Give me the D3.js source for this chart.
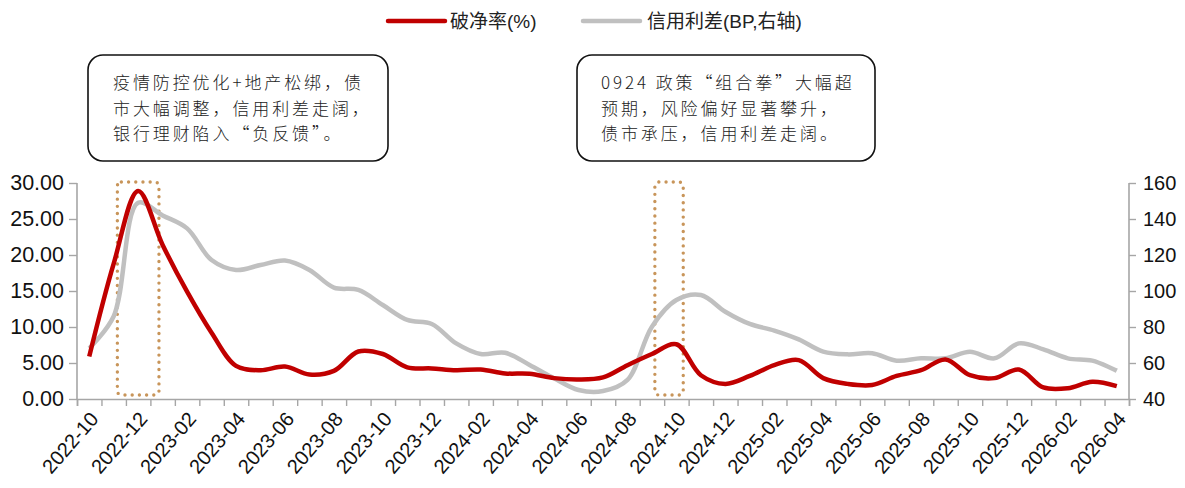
<!DOCTYPE html>
<html><head><meta charset="utf-8">
<script src="https://cdn.jsdelivr.net/npm/d3@7"></script>
<style>
html,body{margin:0;padding:0;background:#fff;}
svg{display:block;font-family:"Liberation Sans",Arial,sans-serif;}
</style></head>
<body><svg id="c" width="1185" height="488"></svg>
<script>
const months = ["2022-10","2022-11","2022-12","2023-01","2023-02","2023-03","2023-04","2023-05","2023-06","2023-07","2023-08","2023-09","2023-10","2023-11","2023-12","2024-01","2024-02","2024-03","2024-04","2024-05","2024-06","2024-07","2024-08","2024-09","2024-10","2024-11","2024-12","2025-01","2025-02","2025-03","2025-04","2025-05","2025-06","2025-07","2025-08","2025-09","2025-10","2025-11","2025-12","2026-01","2026-02","2026-03","2026-04"];
const pbBreak = [5.9,18.8,28.9,21.4,14.9,9.2,4.6,4.0,4.5,3.4,3.9,6.6,6.25,4.4,4.25,4.0,4.1,3.55,3.5,2.9,2.7,3.0,4.7,6.25,7.6,3.3,2.1,3.2,4.7,5.4,2.9,2.1,1.95,3.2,4.0,5.5,3.3,2.9,4.1,1.6,1.5,2.4,1.8];
const creditSpread = [68.2,86,149,142,134.8,117.2,111.7,114.4,116.9,111.7,101.9,100.6,92.2,83.9,81.7,70.9,65,65.7,58.9,51.5,45,44.4,50.6,80.2,95,97.8,88.5,81.7,78,73.1,66.3,64.8,65.4,61.3,62.6,62.6,66.3,62.6,70.9,67.6,62.6,61.3,55.7];
const leftTicks = [0,5,10,15,20,25,30];
const rightTicks = [40,60,80,100,120,140,160];
const labelMonths = months.filter((m,i)=>i%2===0);
const seriesNames = ["破净率(%)","信用利差(BP,右轴)"];
const note1 = ["疫情防控优化+地产松绑，债","市大幅调整，信用利差走阔，","银行理财陷入“负反馈”。"];
const note2 = ["0924 政策“组合拳”大幅超","预期，风险偏好显著攀升，","债市承压，信用利差走阔。"];
const highlightMonths = [["2022-12","2022-12"],["2024-09","2024-10"]];

const svg = d3.select("#c");
const L=77, R=1129, T=183, B=399;
const x = d3.scaleBand().domain(months).range([L,R]).paddingInner(0).paddingOuter(0);
const xi = d3.scaleLinear().domain([0,months.length]).range([L,R]);
const yL = d3.scaleLinear().domain([0,30]).range([B,T]);
const yR = d3.scaleLinear().domain([40,160]).range([B,T]);
const cx = m => x(m)+x.bandwidth()/2;
const axisColor="#a6a6a6";

// left axis
const gL = svg.append("g").attr("transform",`translate(${L},0)`)
  .call(d3.axisLeft(yL).tickValues(leftTicks).tickFormat(d3.format(".2f")).tickSize(8).tickPadding(5));
// right axis
const gR = svg.append("g").attr("transform",`translate(${R},0)`)
  .call(d3.axisRight(yR).tickValues(rightTicks).tickSize(7).tickPadding(7));
// bottom ticks
const gB = svg.append("g").attr("transform",`translate(0,${B})`)
  .call(d3.axisBottom(xi).tickValues(d3.range(months.length+1)).tickFormat("").tickSize(7));
const gBL = svg.append("g").attr("transform",`translate(0,${B})`)
  .call(d3.axisBottom(x).tickValues(labelMonths).tickSize(0));
gBL.select(".domain").remove();
gBL.selectAll("text").attr("text-anchor","end").attr("dy","0.35em").attr("y",0)
  .attr("transform","translate(5,16) rotate(-49)");
[gL,gR,gB].forEach(g=>{g.selectAll(".domain").attr("stroke",axisColor).attr("stroke-width",1.6);
  g.selectAll(".tick line").attr("stroke",axisColor).attr("stroke-width",1.4);});
gL.select(".domain").attr("d",`M0,${T}V${B}`);
gR.select(".domain").attr("d",`M0,${T}V${B}`);
[gR,gBL].forEach(g=>g.selectAll("text").attr("fill","#111").style("font-size","20px").style("font-family","'Liberation Sans',Arial,sans-serif"));
gL.selectAll("text").attr("fill","#111").style("font-size","21.5px").style("font-family","'Liberation Sans',Arial,sans-serif");

// highlight boxes (dotted)
const bw = x.bandwidth();
highlightMonths.forEach(([a,b],k)=>{
  const c = k===0 ? cx(a) : cx(a)+0.7*(cx(b)-cx(a));
  const hw = k===0 ? 0.85*bw : 0.58*bw;
  svg.append("rect").attr("x",c-hw).attr("y",yL(30)-1).attr("width",2*hw).attr("height",yL(0)-yL(30)-3)
    .attr("rx",4).attr("fill","none").attr("stroke","#c8955a").attr("stroke-width",3.4)
    .attr("stroke-linecap","round").attr("stroke-dasharray","0 7.2");
});

// lines
const lineR = d3.line().x((d,i)=>cx(months[i])).y(d=>yR(d)).curve(d3.curveCatmullRom.alpha(0.5));
const lineL = d3.line().x((d,i)=>cx(months[i])).y(d=>yL(d)).curve(d3.curveCatmullRom.alpha(0.5));
svg.append("path").datum(creditSpread).attr("d",lineR).attr("fill","none").attr("stroke","#c0c0c0").attr("stroke-width",4.5).attr("stroke-linejoin","round");
svg.append("path").datum(pbBreak).attr("d",lineL).attr("fill","none").attr("stroke","#c00000").attr("stroke-width",4.5).attr("stroke-linejoin","round");

// legend
const leg = [[seriesNames[0],"#c00000",388,450],[seriesNames[1],"#c0c0c0",583,647]];
leg.forEach(([t,c,x0,tx])=>{
  svg.append("line").attr("x1",x0).attr("x2",x0+57).attr("y1",21).attr("y2",21).attr("stroke",c).attr("stroke-width",4.5).attr("stroke-linecap","round");
  svg.append("text").attr("x",tx).attr("y",28).text(t).attr("fill","#222")
    .style("font-size","19px").style("font-family","'Liberation Sans','Noto Sans CJK SC',sans-serif");
});

// annotation boxes
function note(lines,bx,by,bw,bh,tx){
  svg.append("rect").attr("x",bx).attr("y",by).attr("width",bw).attr("height",bh).attr("rx",15)
    .attr("fill","#fff").attr("stroke","#111").attr("stroke-width",1.6);
  lines.forEach((t,i)=>svg.append("text").attr("x",tx).attr("y",by+34+i*25.5).text(t)
    .attr("fill","#222").style("font-size","17px").style("letter-spacing","2.9px")
    .style("font-weight","300").style("font-family","'Noto Sans CJK SC',sans-serif"));
}
note(note1,88,55,300,106,113);
note(note2,577,55,298,106,601);
</script></body></html>
